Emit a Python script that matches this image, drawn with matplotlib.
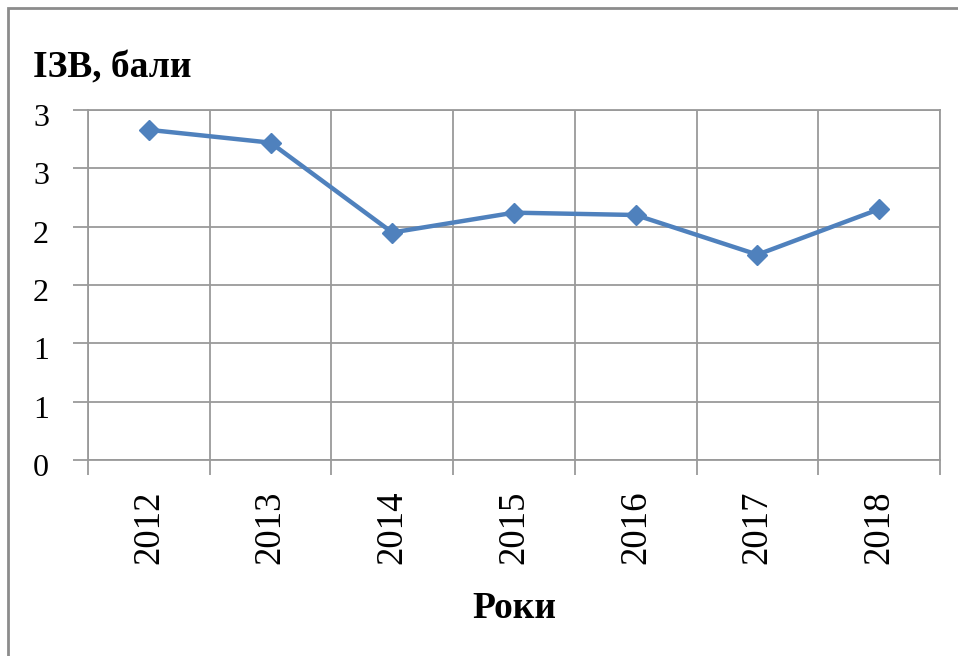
import matplotlib.pyplot as plt
import matplotlib.transforms as mtransforms
from matplotlib.patches import Rectangle
from matplotlib.ticker import FixedLocator

years = ['2012', '2013', '2014', '2015', '2016', '2017', '2018']
izv = [2.83, 2.72, 1.95, 2.12, 2.10, 1.76, 2.15]
y_ticks = [0, 0.5, 1.0, 1.5, 2.0, 2.5, 3.0]
y_labels = ['0', '1', '1', '2', '2', '3', '3']  # excel rounding on the axis

W, H = 958, 656
fig = plt.figure(figsize=(W / 100, H / 100), dpi=100)
ax = fig.add_axes([88 / W, 1 - 460 / H, (940 - 88) / W, (460 - 110) / H])

grid_c = '#9a9a9a'
x = list(range(len(years)))
ax.plot(x, izv, color='#4F81BD', lw=3.2, marker='D', markersize=10, zorder=3)

ax.set_xlim(-0.5, len(years) - 0.5)
ax.set_ylim(0, 3.0)

# category boundaries get the tick marks and grid, labels sit in between
ax.xaxis.set_major_locator(FixedLocator([i - 0.5 for i in range(len(years) + 1)]))
ax.xaxis.set_minor_locator(FixedLocator(x))
ax.set_xticklabels([], minor=False)
ax.set_xticklabels(years, minor=True, rotation=90, fontsize=26.5,
                   family='Liberation Serif', va='top')
ax.tick_params(axis='x', which='major', length=11, width=1.3, color=grid_c, direction='out')
ax.tick_params(axis='x', which='minor', length=0, pad=22)

ax.set_yticks(y_ticks)
ax.set_yticklabels(y_labels, fontsize=23, family='Liberation Serif')
ax.tick_params(axis='y', length=11, width=1.3, color=grid_c, direction='out', pad=17)
shift = mtransforms.ScaledTranslation(0, -5 / 100, fig.dpi_scale_trans)
for lab in ax.get_yticklabels():
    lab.set_transform(lab.get_transform() + shift)

ax.grid(True, which='major', color=grid_c, lw=1.3)
ax.set_axisbelow(True)
for s in ax.spines.values():
    s.set_color(grid_c)
    s.set_linewidth(1.3)

fig.text(33 / W, 1 - 68 / H, 'ІЗВ, бали', fontsize=27, fontweight='bold',
         family='Liberation Serif', va='center', ha='left')
fig.text(514 / W, 1 - 608 / H, 'Роки', fontsize=27, fontweight='bold',
         family='Liberation Serif', va='center', ha='center')

# outer chart frame, cut off at right and bottom like the source
fig.patches.append(Rectangle((8 / W, -0.05), 1.1, 1 - 8 / H + 0.05, transform=fig.transFigure,
                             fill=False, edgecolor='#8c8c8c', lw=2))

fig.savefig('out.png', dpi=100)
